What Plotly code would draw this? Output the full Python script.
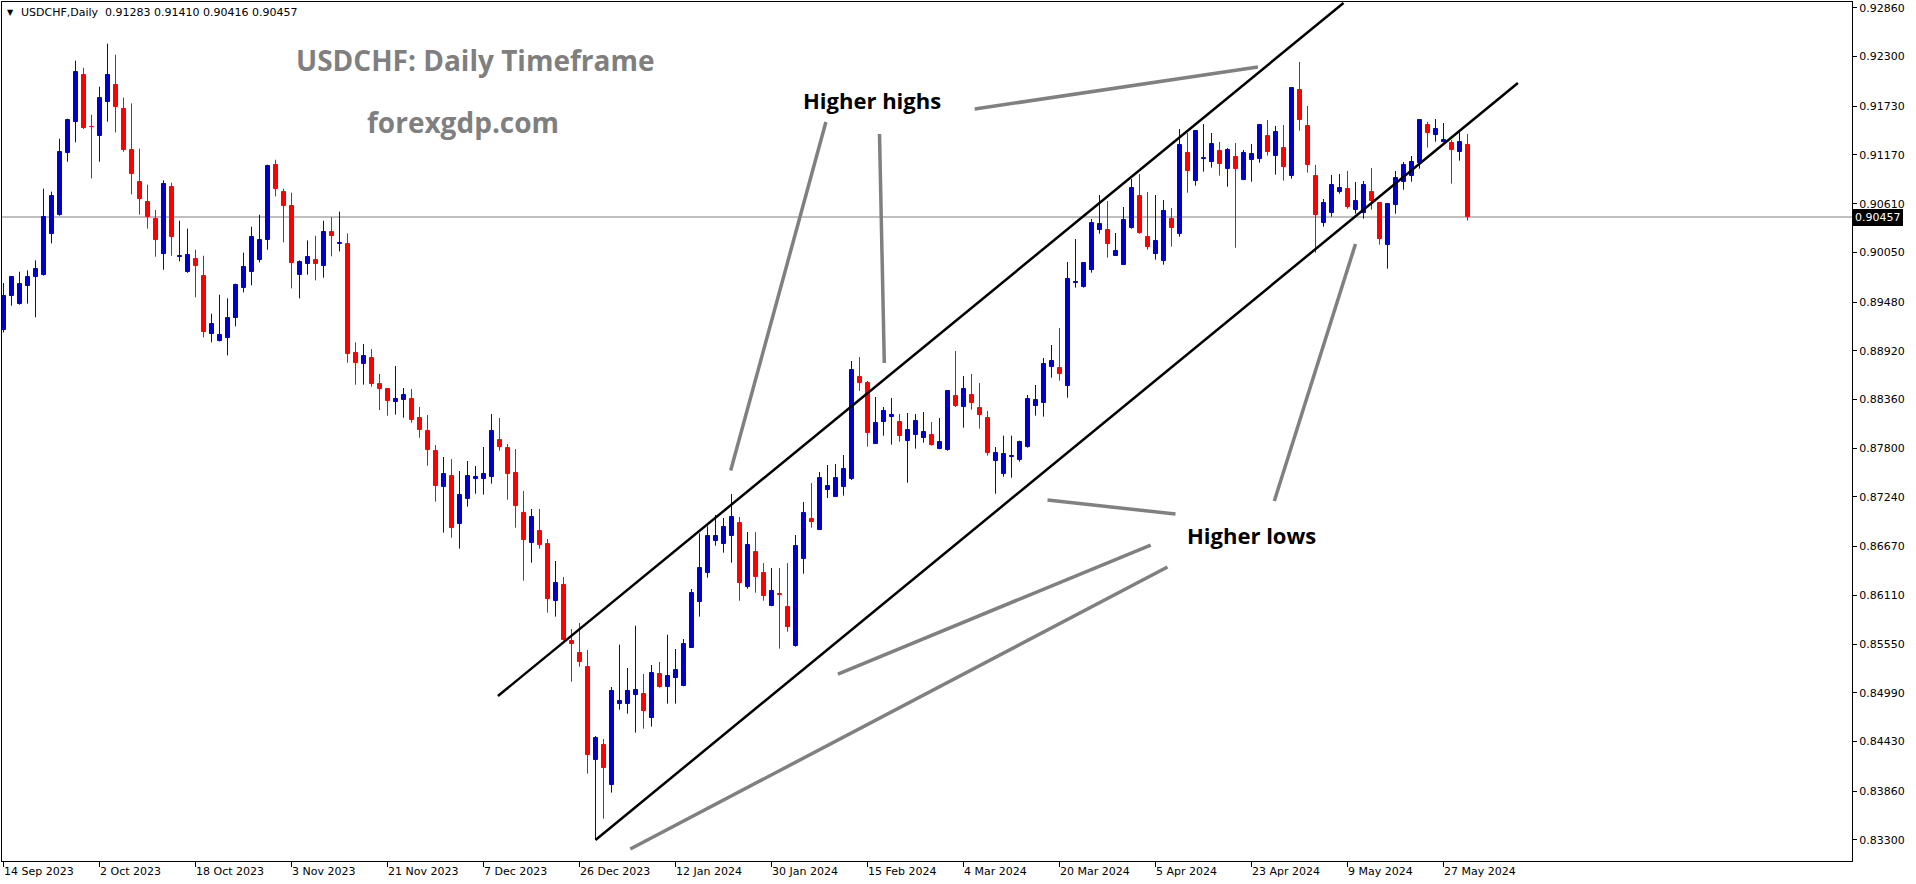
import plotly.graph_objects as go

# ---------------- data ----------------
opens = [0.89162,0.89545,0.89461,0.89668,0.89763,0.89790,0.90257,0.90483,0.91188,0.91544,
         0.92092,0.91495,0.91383,0.91774,0.91977,0.91701,0.91230,0.90863,0.90633,0.90437,
         0.90028,0.90797,0.89993,0.89821,0.89978,0.89783,0.89108,0.89036,0.89062,0.89292,
         0.89637,0.89821,0.89959,0.90188,0.91050,0.90748,0.90587,0.89786,0.89913,0.89966,
         0.89890,0.90280,0.90146,0.90147,0.88894,0.88772,0.88837,0.88538,0.88481,0.88335,
         0.88358,0.88366,0.88147,0.87998,0.87768,0.87358,0.87481,0.86933,0.87221,0.87450,
         0.87450,0.87473,0.87895,0.87803,0.87515,0.87056,0.86715,0.86849,0.86700,0.86049,
         0.86229,0.85585,0.85447,0.85286,0.84222,0.84390,0.83934,0.84865,0.84865,0.84969,
         0.84976,0.84704,0.85206,0.85060,0.85164,0.85072,0.85509,0.86037,0.86370,0.86738,
         0.86703,0.86795,0.86941,0.86209,0.86608,0.86366,0.85991,0.86129,0.85976,0.85531,
         0.86531,0.86987,0.86864,0.87324,0.87243,0.87358,0.87447,0.88619,0.88550,0.87853,
         0.88105,0.88163,0.88101,0.87887,0.87956,0.87921,0.87952,0.87795,0.87780,0.88400,
         0.88278,0.88412,0.88262,0.88147,0.87657,0.87508,0.87703,0.87669,0.87818,0.88289,
         0.88324,0.88737,0.88722,0.88519,0.89698,0.89656,0.89848,0.90311,0.90307,0.90013,
         0.89909,0.90334,0.90698,0.90227,0.90036,0.89955,0.90434,0.90265,0.91192,0.90874,
         0.91123,0.91093,0.91215,0.91012,0.91146,0.90886,0.91116,0.91127,0.91388,0.91162,
         0.91250,0.90932,0.91916,0.91503,0.90928,0.90392,0.90507,0.90748,0.90779,0.90541,
         0.90507,0.90744,0.90618,0.90139,0.90599,0.90863,0.90932,0.91081,0.91514,0.91403,
         0.91323,0.91307,0.91208,0.91283]
highs = [0.89698,0.89775,0.89828,0.89844,0.89959,0.90782,0.90748,0.91357,0.91586,0.92253,
         0.92172,0.91632,0.91954,0.92448,0.92322,0.91828,0.91763,0.91242,0.90828,0.90537,
         0.90878,0.90851,0.90414,0.90323,0.90081,0.90012,0.89346,0.89564,0.89522,0.89691,
         0.90047,0.90346,0.90483,0.91058,0.91115,0.90782,0.90736,0.89959,0.90188,0.90242,
         0.90414,0.90457,0.90518,0.90269,0.89017,0.88998,0.88940,0.88653,0.88485,0.88745,
         0.88492,0.88481,0.88274,0.88182,0.87837,0.87699,0.87676,0.87538,0.87653,0.87596,
         0.87814,0.88193,0.88147,0.87849,0.87791,0.87309,0.87102,0.87102,0.86757,0.86504,
         0.86321,0.85723,0.85792,0.85482,0.84494,0.84459,0.85057,0.85543,0.85275,0.85761,
         0.85206,0.85309,0.85344,0.85658,0.85493,0.85608,0.86183,0.86822,0.86902,0.87033,
         0.86998,0.87274,0.87010,0.86837,0.86837,0.86481,0.86424,0.86424,0.86481,0.86803,
         0.87182,0.87400,0.87527,0.87607,0.87619,0.87722,0.88802,0.88848,0.88573,0.88389,
         0.88274,0.88377,0.88193,0.88205,0.88193,0.88216,0.88101,0.88147,0.88458,0.88917,
         0.88630,0.88653,0.88550,0.88228,0.87814,0.87944,0.87944,0.87887,0.88412,0.88527,
         0.88837,0.88986,0.89182,0.89940,0.90204,0.89940,0.90434,0.90710,0.90641,0.90273,
         0.90572,0.90893,0.90951,0.90744,0.90710,0.90652,0.90560,0.91468,0.91422,0.91456,
         0.91525,0.91422,0.91319,0.91250,0.91307,0.91227,0.91296,0.91526,0.91572,0.91503,
         0.91514,0.91951,0.92238,0.91733,0.91055,0.90664,0.90940,0.90951,0.90986,0.90859,
         0.90871,0.91020,0.90625,0.90606,0.90986,0.91089,0.91158,0.91583,0.91549,0.91583,
         0.91537,0.91342,0.91434,0.91410]
lows = [0.89131,0.89438,0.89449,0.89461,0.89304,0.89783,0.90154,0.90472,0.91092,0.91315,
        0.91468,0.90901,0.91092,0.91552,0.91429,0.91207,0.90717,0.90483,0.90323,0.90001,
        0.89851,0.90012,0.89947,0.89815,0.89534,0.89074,0.89017,0.89028,0.88867,0.89200,
        0.89591,0.89671,0.89936,0.90081,0.90694,0.90166,0.89637,0.89522,0.89794,0.89729,
        0.89760,0.90005,0.90062,0.88783,0.88530,0.88530,0.88507,0.88239,0.88174,0.88186,
        0.88151,0.88094,0.87921,0.87600,0.87186,0.86830,0.86772,0.86646,0.87129,0.87278,
        0.87267,0.87393,0.87772,0.87209,0.86887,0.86278,0.86485,0.86646,0.85911,0.85865,
        0.85590,0.85118,0.85290,0.84061,0.83299,0.83544,0.83843,0.84796,0.84750,0.84532,
        0.84578,0.84601,0.85049,0.84865,0.84865,0.85065,0.85505,0.85865,0.86313,0.86680,
        0.86600,0.86485,0.86048,0.86186,0.86140,0.86048,0.85985,0.85497,0.85692,0.85520,
        0.86359,0.86887,0.86860,0.87228,0.87240,0.87255,0.87435,0.88458,0.87818,0.87850,
        0.87944,0.87841,0.87875,0.87404,0.87795,0.87864,0.87830,0.87790,0.87772,0.88274,
        0.88036,0.88243,0.88025,0.87715,0.87278,0.87473,0.87462,0.87646,0.87807,0.88174,
        0.88163,0.88611,0.88576,0.88381,0.89645,0.89645,0.89817,0.90265,0.89990,0.90010,
        0.89905,0.90323,0.90265,0.90081,0.89967,0.89909,0.90116,0.90231,0.90736,0.90817,
        0.90978,0.91024,0.90932,0.90805,0.90104,0.90880,0.90863,0.91081,0.91162,0.90944,
        0.90875,0.90898,0.91449,0.90967,0.90047,0.90346,0.90461,0.90725,0.90553,0.90495,
        0.90438,0.90541,0.90139,0.89863,0.90495,0.90771,0.90863,0.91012,0.91254,0.91323,
        0.91315,0.90840,0.91104,0.90416]
closes = [0.89553,0.89763,0.89691,0.89771,0.89863,0.90453,0.90702,0.91207,0.91575,0.92126,
          0.91483,0.91487,0.91828,0.92092,0.91717,0.91230,0.90947,0.90660,0.90460,0.90188,
          0.90840,0.90223,0.90012,0.90024,0.89890,0.89131,0.89231,0.89105,0.89300,0.89679,
          0.89886,0.90231,0.90196,0.91039,0.90774,0.90579,0.89924,0.89936,0.90001,0.89913,
          0.90288,0.90234,0.90162,0.88887,0.88783,0.88860,0.88542,0.88481,0.88347,0.88366,
          0.88412,0.88128,0.88013,0.87784,0.87370,0.87504,0.86887,0.87263,0.87481,0.87469,
          0.87504,0.87998,0.87818,0.87508,0.87140,0.86746,0.87010,0.86692,0.86072,0.86252,
          0.85597,0.85555,0.85348,0.84279,0.84471,0.84130,0.85011,0.84896,0.85011,0.85022,
          0.84785,0.85217,0.85060,0.85183,0.85252,0.85551,0.86137,0.86424,0.86795,0.86795,
          0.86895,0.87010,0.86255,0.86688,0.86324,0.86106,0.86159,0.86117,0.85750,0.86677,
          0.87056,0.86956,0.87458,0.87366,0.87458,0.87561,0.88699,0.88550,0.87979,0.88090,
          0.88228,0.88182,0.87944,0.88010,0.88113,0.87987,0.87841,0.87872,0.88458,0.88285,
          0.88481,0.88324,0.88186,0.87749,0.87745,0.87734,0.87715,0.87872,0.88366,0.88354,
          0.88768,0.88802,0.88657,0.89744,0.89710,0.89928,0.90388,0.90376,0.90150,0.90066,
          0.90422,0.90790,0.90277,0.90116,0.90181,0.90526,0.90334,0.91284,0.90989,0.91445,
          0.91135,0.91296,0.91070,0.91227,0.91012,0.91192,0.91181,0.91514,0.91208,0.91434,
          0.91035,0.91939,0.91575,0.91058,0.90484,0.90618,0.90825,0.90790,0.90576,0.90641,
          0.90825,0.90645,0.90208,0.90606,0.90905,0.91055,0.91089,0.91572,0.91426,0.91468,
          0.91342,0.91231,0.91319,0.90457]

date_labels = ["14 Sep 2023", "2 Oct 2023", "18 Oct 2023", "3 Nov 2023", "21 Nov 2023",
               "7 Dec 2023", "26 Dec 2023", "12 Jan 2024", "30 Jan 2024", "15 Feb 2024",
               "4 Mar 2024", "20 Mar 2024", "5 Apr 2024", "23 Apr 2024", "9 May 2024",
               "27 May 2024"]
bars_per_label = 12
price_ticks = [0.92860, 0.92300, 0.91730, 0.91170, 0.90610, 0.90050, 0.89480, 0.88920,
               0.88360, 0.87800, 0.87240, 0.86670, 0.86110, 0.85550, 0.84990, 0.84430,
               0.83860, 0.83300]
last_price = 0.90457
header_text = "USDCHF,Daily  0.91283 0.91410 0.90416 0.90457"

# drawn objects (bar index, price)
channel_upper = ([61.8, 167.5], [0.84953, 0.92916])
channel_lower = ([74.0, 189.3], [0.83299, 0.91997])
pointer_lines = [
    ([90.9, 102.8], [0.87544, 0.91549]),
    ([110.1, 109.5], [0.88779, 0.91411]),
    ([121.4, 156.8], [0.91698, 0.92181]),
    ([130.5, 146.5], [0.87205, 0.87044]),
    ([104.3, 143.4], [0.85206, 0.86688]),
    ([78.35, 145.5], [0.83195, 0.86436]),
    ([158.85, 169.0], [0.87194, 0.90147]),
]

# ---------------- styling ----------------
W, H = 1916, 884
ML, MR, MT, MB = 2, 64, 2, 23
BLUE = "#0000CD"
RED = "#FF0000"
AXIS_FONT = dict(family="DejaVu Sans", size=11, color="black")

def px_x(px):
    return (px - ML) / (W - ML - MR)

def px_y(py):
    return (H - MB - py) / (H - MT - MB)

idx = list(range(len(opens)))
up = [c >= o for o, c in zip(opens, closes)]

fig = go.Figure()

# wicks
for flag, col in ((True, BLUE), (False, RED)):
    wx, wy = [], []
    for i in idx:
        if up[i] == flag:
            wx += [i, i, None]
            wy += [lows[i], highs[i], None]
    fig.add_trace(go.Scatter(x=wx, y=wy, mode="lines", line=dict(color=col, width=1),
                             hoverinfo="skip", showlegend=False))

# bodies
colors = [BLUE if u else RED for u in up]
fig.add_trace(go.Bar(
    x=idx,
    y=[abs(c - o) for o, c in zip(opens, closes)],
    base=[min(o, c) for o, c in zip(opens, closes)],
    width=0.5,
    marker=dict(color=colors, line=dict(color=colors, width=1)),
    hoverinfo="skip", showlegend=False))

# channel lines
for xs, ys in (channel_upper, channel_lower):
    fig.add_trace(go.Scatter(x=xs, y=ys, mode="lines", line=dict(color="black", width=2.5),
                             hoverinfo="skip", showlegend=False))
# pointer lines
for xs, ys in pointer_lines:
    fig.add_trace(go.Scatter(x=xs, y=ys, mode="lines", line=dict(color="#808080", width=3.5),
                             hoverinfo="skip", showlegend=False))

# last price horizontal line
fig.add_shape(type="line", xref="paper", x0=0, x1=1, yref="y", y0=last_price, y1=last_price,
              line=dict(color="#808080", width=1), layer="below")

annotations = []
# date labels
for k, lab in enumerate(date_labels):
    annotations.append(dict(x=k * bars_per_label, xref="x", y=0, yref="paper",
                            text=lab, showarrow=False, xanchor="left", yanchor="top",
                            xshift=-2, yshift=-2, font=AXIS_FONT))
# last price label
annotations.append(dict(x=1, xref="paper", y=last_price, yref="y", text=f"{last_price:.5f}",
                        showarrow=False, xanchor="left", yanchor="middle", xshift=1,
                        bgcolor="black", bordercolor="black", borderwidth=1, borderpad=1,
                        font=dict(family="DejaVu Sans", size=11, color="white")))
# header
annotations.append(dict(x=px_x(5), xref="paper", y=px_y(12), yref="paper", text="▼",
                        showarrow=False, xanchor="left", yanchor="middle",
                        font=dict(family="DejaVu Sans", size=8, color="black")))
annotations.append(dict(x=px_x(19), xref="paper", y=px_y(12), yref="paper", text=header_text,
                        showarrow=False, xanchor="left", yanchor="middle", font=AXIS_FONT))
# titles
annotations.append(dict(x=px_x(475), xref="paper", y=px_y(60), yref="paper",
                        text="<b>USDCHF: Daily Timeframe</b>", showarrow=False,
                        xanchor="center", yanchor="middle",
                        font=dict(family="Open Sans", size=28, color="#7f7f7f")))
annotations.append(dict(x=px_x(463), xref="paper", y=px_y(122), yref="paper",
                        text="<b>forexgdp.com</b>", showarrow=False,
                        xanchor="center", yanchor="middle",
                        font=dict(family="Open Sans", size=28, color="#7f7f7f")))
annotations.append(dict(x=px_x(872), xref="paper", y=px_y(100), yref="paper",
                        text="<b>Higher highs</b>", showarrow=False,
                        xanchor="center", yanchor="middle",
                        font=dict(family="Open Sans", size=22, color="black")))
annotations.append(dict(x=px_x(1251), xref="paper", y=px_y(535), yref="paper",
                        text="<b>Higher lows</b>", showarrow=False,
                        xanchor="center", yanchor="middle",
                        font=dict(family="Open Sans", size=22, color="black")))

plot_w = W - ML - MR
plot_h = H - MT - MB
x0 = -1.5 / 8
y_top = last_price + (217 - MT) * 0.0001149
y_bot = last_price - (H - MB - 217) * 0.0001149

fig.update_layout(
    width=W, height=H,
    margin=dict(l=ML, r=MR, t=MT, b=MB),
    paper_bgcolor="white", plot_bgcolor="white",
    barmode="overlay", bargap=0,
    showlegend=False,
    annotations=annotations,
    xaxis=dict(range=[x0, x0 + plot_w / 8], showgrid=False, zeroline=False,
               showline=True, mirror=True, linecolor="black", linewidth=1,
               tickvals=[k * bars_per_label for k in range(len(date_labels))],
               ticks="outside", ticklen=5, tickcolor="black", tickwidth=1,
               showticklabels=False, fixedrange=True),
    yaxis=dict(range=[y_bot, y_top], side="right", showgrid=False, zeroline=False,
               showline=True, mirror=True, linecolor="black", linewidth=1,
               tickvals=price_ticks, ticktext=[f"{v:.5f}" for v in price_ticks],
               ticks="outside", ticklen=4, tickcolor="black", tickwidth=1,
               tickfont=AXIS_FONT, fixedrange=True),
)

fig.write_html(
    "out.html",
    config={"displayModeBar": False},
    post_script="document.body.style.margin='0';document.body.style.overflow='hidden';",
)
